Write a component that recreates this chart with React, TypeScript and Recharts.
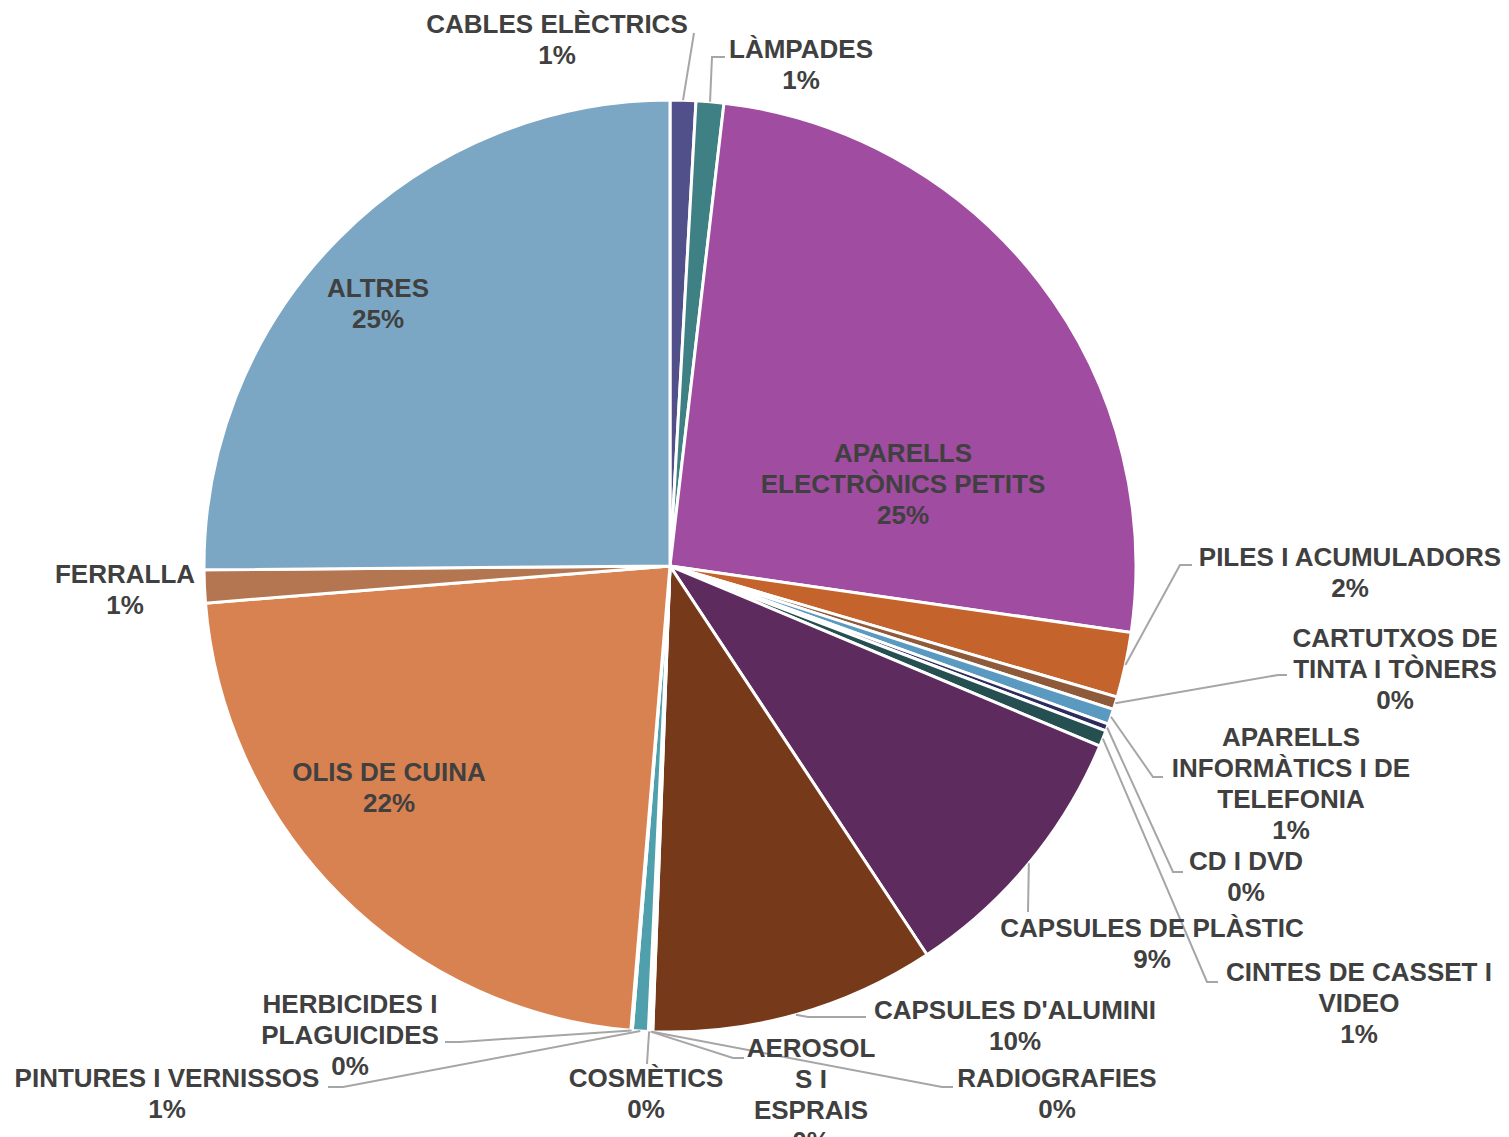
import React from "react";
import { PieChart, Pie, Cell } from "recharts";

// categories, clockwise from 12 o'clock
const categories = [
  "CABLES ELÈCTRICS",
  "LÀMPADES",
  "APARELLS ELECTRÒNICS PETITS",
  "PILES I ACUMULADORS",
  "CARTUTXOS DE TINTA I TÒNERS",
  "APARELLS INFORMÀTICS I DE TELEFONIA",
  "CD I DVD",
  "CINTES DE CASSET I VIDEO",
  "CAPSULES DE PLÀSTIC",
  "CAPSULES D'ALUMINI",
  "RADIOGRAFIES",
  "AEROSOLS I ESPRAIS",
  "COSMÈTICS",
  "PINTURES I VERNISSOS",
  "HERBICIDES I PLAGUICIDES",
  "OLIS DE CUINA",
  "FERRALLA",
  "ALTRES",
];

// share of total (%)
const values = [
  0.89, 0.96, 25.44, 2.26, 0.44, 0.53, 0.25, 0.56, 9.39, 9.89, 0.05, 0.05, 0.05,
  0.55, 0.05, 22.4, 1.14, 25.14,
];

const colors = [
  "#52508b", "#3f8084", "#a04ca0", "#c5632d", "#8e5a3a", "#5b9ac0",
  "#2b2d5e", "#254f50", "#5e2b5f", "#763a1a", "#3e6d8f", "#8e4d8f",
  "#6f8fb0", "#4fa0ac", "#e69a6a", "#d98251", "#b47650", "#7ba7c4",
];

// how each label wraps, as in the original
const labelLines = [
  ["CABLES ELÈCTRICS"],
  ["LÀMPADES"],
  ["APARELLS", "ELECTRÒNICS PETITS"],
  ["PILES I ACUMULADORS"],
  ["CARTUTXOS DE", "TINTA I TÒNERS"],
  ["APARELLS", "INFORMÀTICS I DE", "TELEFONIA"],
  ["CD I DVD"],
  ["CINTES DE CASSET I", "VIDEO"],
  ["CAPSULES DE PLÀSTIC"],
  ["CAPSULES D'ALUMINI"],
  ["RADIOGRAFIES"],
  ["AEROSOL", "S I", "ESPRAIS"],
  ["COSMÈTICS"],
  ["PINTURES I VERNISSOS"],
  ["HERBICIDES I", "PLAGUICIDES"],
  ["OLIS DE CUINA"],
  ["FERRALLA"],
  ["ALTRES"],
];

// label placement (centre x, first baseline y) and leader bends
const labelLayout: { x: number; y: number; leader?: number[][] }[] = [
  { x: 557, y: 33, leader: [[694, 33]] },
  { x: 801, y: 58, leader: [[712, 57], [725, 57]] },
  { x: 903, y: 462 },
  { x: 1350, y: 566, leader: [[1180, 565], [1192, 565]] },
  { x: 1395, y: 647, leader: [[1278, 675], [1287, 675]] },
  { x: 1291, y: 746, leader: [[1153, 777], [1163, 777]] },
  { x: 1246, y: 870, leader: [[1173, 872], [1183, 872]] },
  { x: 1359, y: 981, leader: [[1207, 982], [1218, 982]] },
  { x: 1152, y: 937, leader: [[1028, 912]] },
  { x: 1015, y: 1019, leader: [[808, 1017], [866, 1017]] },
  { x: 1057, y: 1087, leader: [[942, 1087], [953, 1087]] },
  { x: 811, y: 1057, leader: [[733, 1058], [744, 1058]] },
  { x: 646, y: 1087, leader: [[647, 1064]] },
  { x: 167, y: 1087, leader: [[343, 1087], [328, 1087]] },
  { x: 350, y: 1013, leader: [[460, 1042], [445, 1042]] },
  { x: 389, y: 781 },
  { x: 125, y: 583 },
  { x: 378, y: 297 },
];

const data = categories.map((name, i) => ({ name, value: values[i] }));

const RAD = Math.PI / 180;
const LINE_H = 31;

function renderLabel(props: any) {
  const { cx, cy, midAngle, outerRadius, percent, index } = props;
  const layout = labelLayout[index];
  const lines = [...labelLines[index], Math.round(percent * 100) + "%"];
  let leader = null;
  if (layout.leader) {
    const sx = cx + outerRadius * Math.cos(-midAngle * RAD);
    const sy = cy + outerRadius * Math.sin(-midAngle * RAD);
    const pts = [[sx, sy], ...layout.leader].map((p) => p.join(",")).join(" ");
    leader = <polyline points={pts} fill="none" stroke="#a6a6a6" strokeWidth={2} />;
  }
  return (
    <g key={"lbl" + index}>
      {leader}
      <text
        x={layout.x}
        y={layout.y}
        textAnchor="middle"
        fill="#404040"
        fontSize={26}
        fontWeight={700}
        fontFamily="'Liberation Sans', Arial, sans-serif"
      >
        {lines.map((t, i) => (
          <tspan key={i} x={layout.x} dy={i === 0 ? 0 : LINE_H}>
            {t}
          </tspan>
        ))}
      </text>
    </g>
  );
}

export default function App() {
  return (
    <div style={{ position: "absolute", left: 0, top: 0, background: "#fff" }}>
      <PieChart width={1509} height={1137} margin={{ top: 0, right: 0, bottom: 0, left: 0 }}>
        <Pie
          data={data}
          dataKey="value"
          nameKey="name"
          cx={670}
          cy={566}
          outerRadius={466}
          startAngle={90}
          endAngle={-270}
          stroke="#ffffff"
          strokeWidth={3}
          label={renderLabel}
          labelLine={false}
          isAnimationActive={false}
        >
          {data.map((d, i) => (
            <Cell key={d.name} fill={colors[i]} />
          ))}
        </Pie>
      </PieChart>
    </div>
  );
}
